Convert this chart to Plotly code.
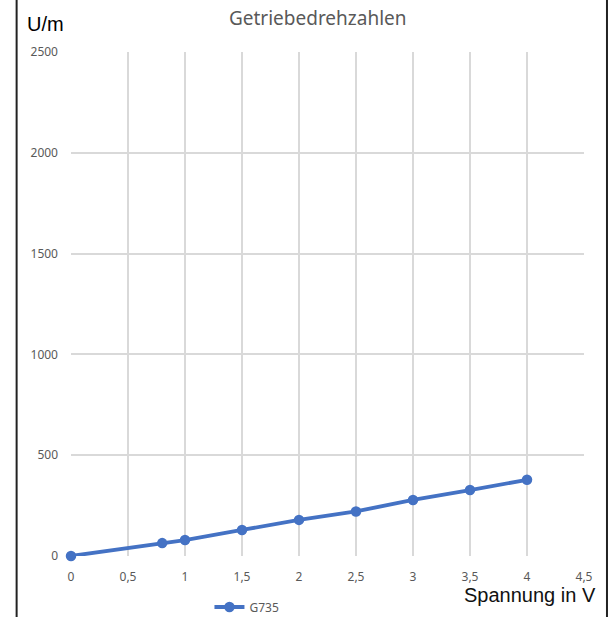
import plotly.graph_objects as go

spannung = [0, 0.8, 1, 1.5, 2, 2.5, 3, 3.5, 4]
drehzahl = [0, 64, 79, 129, 179, 221, 278, 327, 378]
series_name = "G735"
title_text = "Getriebedrehzahlen"
y_label = "U/m"
x_label = "Spannung in V"

blue = "#4472C4"
grid = "#d9d9d9"
tickc = "#595959"

fig = go.Figure()
fig.add_trace(go.Scatter(
    x=spannung, y=drehzahl, mode="lines+markers", name=series_name,
    line=dict(color=blue, width=3.8),
    marker=dict(color=blue, size=10.5),
    cliponaxis=False,
))

fig.update_layout(
    width=611, height=617,
    margin=dict(l=71, r=27, t=52, b=61, autoexpand=False),
    paper_bgcolor="white", plot_bgcolor="white",
    separators=", ",
    showlegend=True,
    legend=dict(orientation="h", x=0.343, y=0.0162, xanchor="center", yanchor="middle",
                yref="container",
                font=dict(family="Noto Sans", size=12, color=tickc),
                bgcolor="rgba(0,0,0,0)", itemwidth=30),
    title=dict(text=title_text, x=0.52, xanchor="center", y=0.971, yanchor="middle",
               font=dict(family="Noto Sans", size=19, color=tickc)),
    xaxis=dict(range=[0, 4.5], dtick=0.5, tick0=0, showgrid=True, gridcolor=grid, gridwidth=2,
               zeroline=False, showline=False, ticks="", ticklabelstandoff=12, automargin=False,
               tickfont=dict(family="Noto Sans", size=12, color=tickc)),
    yaxis=dict(range=[0, 2500], dtick=500, showgrid=True, gridcolor=grid, gridwidth=2,
               zeroline=False, showline=False, ticks="", ticklabelstandoff=12, automargin=False,
               tickfont=dict(family="Noto Sans", size=12, color=tickc)),
    annotations=[
        dict(text=y_label, xref="paper", yref="paper", x=-0.09, y=1.055, xanchor="left",
             yanchor="middle", showarrow=False,
             font=dict(family="Liberation Sans", size=20, color="black")),
        dict(text=x_label, xref="paper", yref="paper", x=1.028, y=-0.078, xanchor="right",
             yanchor="middle", showarrow=False,
             font=dict(family="Liberation Sans", size=20, color="#111111")),
    ],
    shapes=[
        dict(type="line", xref="paper", yref="paper", x0=-0.106, x1=-0.106, y0=-0.2, y1=1.2,
             line=dict(color="#222222", width=2)),
        dict(type="line", xref="paper", yref="paper", x0=1.0448, x1=1.0448, y0=-0.2, y1=1.2,
             line=dict(color="#222222", width=2)),
    ],
)
fig.write_html("out.html", config={"displayModeBar": False},
               post_script="document.body.style.margin='0';")
